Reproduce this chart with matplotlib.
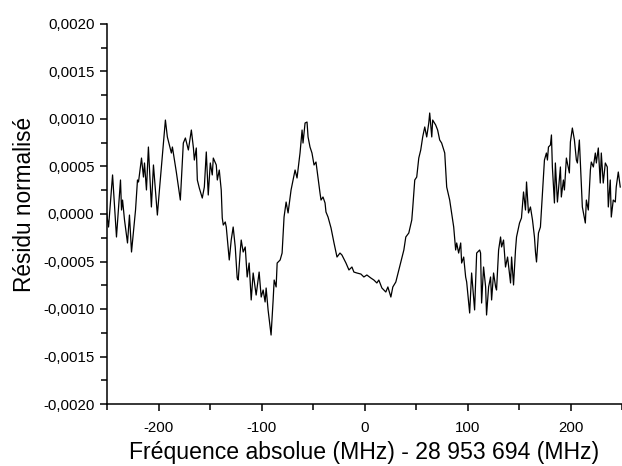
import numpy as np
import matplotlib
matplotlib.use("Agg")
import matplotlib.pyplot as plt
from matplotlib.ticker import FuncFormatter, MultipleLocator

plt.rcParams['font.family'] = ['Liberation Sans', 'DejaVu Sans']
plt.rcParams['axes.unicode_minus'] = False

# frequency offset (MHz) and normalised residual (in units of 1e-4)
freq = [-250.4, -248.5, -244.6, -240.8, -236.9, -235.9, -234.9, -233.0, -230.1, -228.2,
        -226.2, -222.3, -220.4, -219.4, -216.5, -214.6, -213.6, -211.7, -209.8, -206.9,
        -204.9, -201.1, -199.1, -196.2, -193.3, -191.4, -187.5, -186.5, -182.7, -178.8,
        -175.9, -173.9, -171.0, -168.1, -166.1, -165.2, -163.3, -162.3, -160.4, -157.5,
        -155.5, -153.6, -151.7, -149.7, -147.8, -146.8, -143.9, -142.9, -141.0, -139.1,
        -138.1, -137.1, -135.2, -134.2, -131.3, -129.4, -127.5, -125.5, -123.6, -122.6,
        -120.7, -119.7, -117.8, -115.8, -113.9, -112.0, -110.0, -108.1, -105.2, -102.3,
        -100.3, -98.4, -96.5, -95.5, -93.6, -90.7, -88.7, -87.7, -85.8, -84.8,
        -81.9, -80.0, -78.1, -76.1, -74.2, -71.3, -69.4, -67.4, -65.5, -62.6,
        -60.6, -59.7, -57.7, -55.8, -54.8, -52.9, -51.0, -49.0, -47.1, -46.1,
        -43.2, -42.2, -40.3, -38.3, -37.4, -35.4, -32.5, -29.6, -26.7, -23.8,
        -21.9, -18.0, -15.1, -12.2, -10.3, -7.4, -3.5, -0.6, 2.3, 6.2,
        9.1, 12.0, 13.9, 16.9, 20.7, 22.7, 25.6, 27.5, 30.4, 33.3,
        36.2, 38.2, 40.1, 43.0, 45.9, 46.9, 48.8, 50.7, 52.7, 54.6,
        56.5, 58.5, 60.4, 62.4, 63.3, 65.3, 66.2, 69.1, 71.0, 73.0,
        74.9, 77.9, 79.8, 82.7, 84.6, 86.6, 88.5, 89.5, 91.4, 93.4,
        94.3, 96.3, 98.2, 99.2, 102.1, 104.0, 106.9, 108.9, 111.8, 112.7,
        113.7, 115.6, 117.6, 118.5, 120.5, 122.4, 123.4, 125.3, 127.3, 128.2,
        130.2, 132.1, 133.1, 135.0, 136.9, 138.9, 141.8, 142.8, 144.7, 146.6,
        147.6, 150.5, 152.4, 154.4, 156.3, 157.3, 159.2, 161.1, 163.1, 165.0,
        166.0, 167.0, 168.9, 170.8, 172.8, 174.7, 176.6, 177.6, 178.6, 180.5,
        181.5, 182.4, 184.4, 185.3, 187.3, 190.2, 191.1, 193.1, 194.1, 196.0,
        198.9, 199.9, 201.8, 203.8, 205.7, 206.7, 208.6, 210.5, 211.5, 214.4,
        215.4, 217.3, 219.3, 220.2, 222.2, 224.1, 225.1, 227.0, 228.9, 229.9,
        231.8, 233.8, 235.7, 236.7, 238.6, 239.6, 241.5, 243.5, 244.4, 246.4,
        248.3]

residu_1e4 = [0.11, -1.37, 4.11, -2.42, 3.58, 0.42, 1.47, -0.63, -3.05, -0.11,
              -4.0, 0.42, 3.58, 3.37, 5.89, 3.89, 5.37, 2.53, 7.05, 0.74,
              5.16, -0.11, 2.53, 6.21, 9.89, 8.11, 6.42, 7.05, 4.42, 1.47,
              7.47, 8.0, 6.74, 8.84, 6.95, 5.68, 6.95, 3.58, 2.74, 1.68,
              2.84, 6.53, 2.0, 5.37, 4.11, 5.89, 5.16, 3.58, 4.63, 2.53,
              -0.42, -1.16, -0.84, -1.37, -4.84, -2.74, -1.37, -3.47, -6.74, -6.95,
              -4.0, -2.74, -4.0, -3.47, -6.63, -5.16, -9.05, -6.21, -8.53, -6.11,
              -8.74, -8.0, -9.26, -7.79, -10.1, -12.74, -9.05, -6.95, -7.68, -5.16,
              -4.84, -4.11, -0.32, 1.26, 0.11, 2.53, 3.58, 4.63, 3.79, 6.42,
              8.84, 7.47, 9.58, 9.68, 8.11, 7.05, 6.42, 5.16, 5.47, 4.63,
              2.21, 1.47, 1.79, 1.16, 0.21, -0.32, -1.47, -3.05, -4.53, -4.11,
              -4.32, -5.16, -5.89, -5.58, -6.11, -6.21, -6.32, -6.63, -6.42, -6.74,
              -6.95, -7.26, -6.95, -7.79, -8.21, -7.68, -8.74, -7.68, -7.16, -5.89,
              -4.63, -3.79, -2.42, -2.0, -0.63, 0.74, 3.58, 3.89, 5.89, 6.74,
              8.11, 9.16, 8.11, 9.58, 10.63, 8.11, 9.89, 9.37, 8.84, 7.79,
              7.47, 6.42, 2.84, 1.47, 0.11, -1.37, -3.79, -3.05, -4.11, -3.05,
              -5.16, -4.53, -6.63, -7.16, -10.42, -6.21, -10.1, -4.11, -3.79, -4.11,
              -9.37, -5.58, -7.68, -10.63, -7.68, -6.63, -9.05, -6.21, -7.68, -8.0,
              -3.79, -2.42, -3.47, -2.74, -5.58, -4.53, -7.26, -4.53, -7.47, -3.79,
              -2.42, -0.95, -0.42, 2.32, 0.42, 3.37, 0.11, 0.74, -0.63, -2.42,
              -4.0, -5.05, -2.0, -1.37, 2.21, 5.68, 6.42, 5.68, 7.05, 7.26,
              8.32, 4.95, 1.16, 5.37, 1.26, 4.95, 1.79, 3.58, 2.53, 5.89,
              4.32, 7.58, 9.05, 7.79, 5.68, 5.37, 7.79, 3.26, 0.74, -0.95,
              1.47, 0.42, 4.63, 5.47, 4.95, 6.42, 5.37, 6.95, 3.26, 6.42,
              3.26, 5.37, 4.95, 0.74, 3.58, -0.32, 1.47, 1.26, 2.84, 4.42,
              2.84]

residu = np.array(residu_1e4) * 1e-4

fig = plt.figure(figsize=(6.22, 4.66), dpi=100)
ax = fig.add_axes([107/622, 62/466, 515/622, 380/466])

ax.plot(freq, residu, color='black', lw=0.9)

ax.set_xlim(-250, 250)
ax.set_ylim(-0.002, 0.002)
ax.xaxis.set_major_locator(MultipleLocator(100))
ax.xaxis.set_minor_locator(MultipleLocator(50))
ax.yaxis.set_major_locator(MultipleLocator(0.0005))
ax.yaxis.set_minor_locator(MultipleLocator(0.00025))
ax.yaxis.set_major_formatter(FuncFormatter(lambda v, p: f"{v:.4f}".replace('.', ',').replace('-0,0000', '0,0000')))
ax.xaxis.set_major_formatter(FuncFormatter(lambda v, p: f"{v:.0f}"))

for s in ['top', 'right']:
    ax.spines[s].set_visible(False)
for s in ['left', 'bottom']:
    ax.spines[s].set_linewidth(1.1)
ax.tick_params(which='major', direction='out', length=5, width=1.1, labelsize=10.8, pad=4)
ax.tick_params(which='minor', direction='out', length=4, width=1.1)
ax.tick_params(axis='x', which='major', pad=7.5)

ax.set_xlabel('Fréquence absolue (MHz) - 28 953 694 (MHz)', fontsize=16.6)
ax.xaxis.set_label_coords(0.5, -0.097)
ax.set_ylabel('Résidu normalisé', fontsize=16.3, labelpad=5)
ax.yaxis.label.set_y(0.526)

fig.savefig('out.png', dpi=100)
